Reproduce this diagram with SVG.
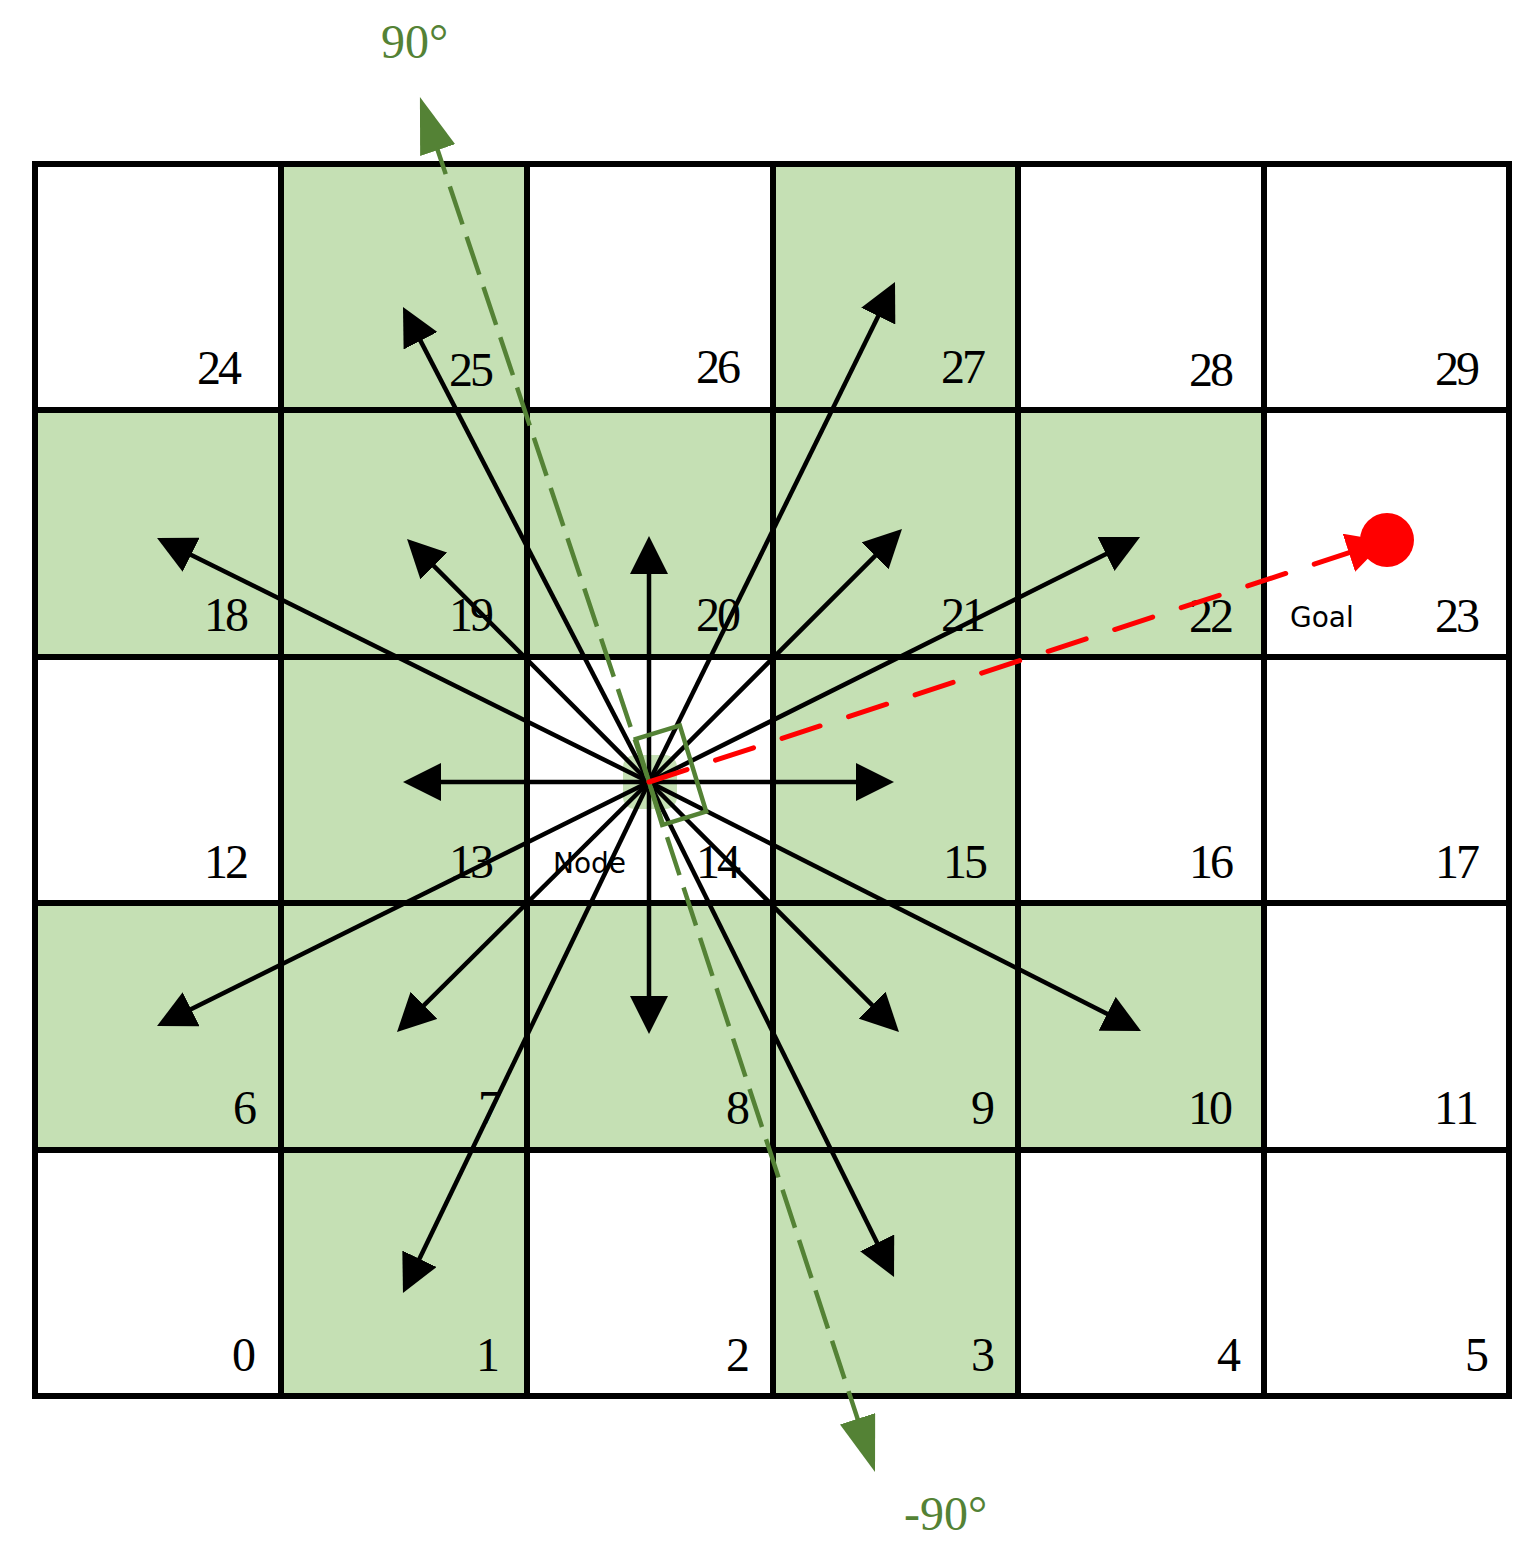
<svg xmlns="http://www.w3.org/2000/svg" width="1533" height="1550" viewBox="0 0 1533 1550">
<style>
.cw{fill:#FFFFFF;stroke:#000;stroke-width:6}
.cg{fill:#C5E0B4;stroke:#000;stroke-width:6}
.num{font-family:"Liberation Serif","Times New Roman",serif;font-size:48px;fill:#000}
.lbl{font-family:"DejaVu Sans","Liberation Sans",sans-serif;font-size:28px;fill:#000}
.ang{font-family:"Liberation Serif","Times New Roman",serif;font-size:48px;fill:#548235}
.arr{stroke:#000;stroke-width:4.5;fill:none;marker-end:url(#ah)}
.gd{stroke:#548235;stroke-width:4.5;fill:none;stroke-dasharray:40 13;stroke-dashoffset:48;marker-end:url(#gh)}
</style>
<defs>
<marker id="ah" markerUnits="userSpaceOnUse" markerWidth="38" markerHeight="38" viewBox="0 0 38 38" refX="28" refY="19" orient="auto"><path d="M0,0 L38,19 L0,38 Z" fill="#000"/></marker>
<marker id="gh" markerUnits="userSpaceOnUse" markerWidth="56" markerHeight="37" viewBox="0 0 56 37" refX="46" refY="18.5" orient="auto"><path d="M0,0 L56,18.5 L0,37 Z" fill="#548235"/></marker>
<marker id="rh" markerUnits="userSpaceOnUse" markerWidth="38" markerHeight="40" viewBox="0 0 38 40" refX="28" refY="20" orient="auto"><path d="M0,0 L38,20 L0,40 Z" fill="#FF0000"/></marker>
</defs>
<rect x="0" y="0" width="1533" height="1550" fill="#FFFFFF"/>
<g id="cells">
<g id="cell-0"><rect class="cw" x="35" y="1150" width="246" height="246"/><text class="num" x="232" y="1371" textLength="23">0</text></g>
<g id="cell-1"><rect class="cg" x="281" y="1150" width="246" height="246"/><text class="num" x="476" y="1371">1</text></g>
<g id="cell-2"><rect class="cw" x="527" y="1150" width="246" height="246"/><text class="num" x="726" y="1371">2</text></g>
<g id="cell-3"><rect class="cg" x="773" y="1150" width="245" height="246"/><text class="num" x="971" y="1371">3</text></g>
<g id="cell-4"><rect class="cw" x="1018" y="1150" width="246" height="246"/><text class="num" x="1217" y="1371">4</text></g>
<g id="cell-5"><rect class="cw" x="1264" y="1150" width="245" height="246"/><text class="num" x="1465" y="1371">5</text></g>
<g id="cell-6"><rect class="cg" x="35" y="903" width="246" height="247"/><text class="num" x="233" y="1124">6</text></g>
<g id="cell-7"><rect class="cg" x="281" y="903" width="246" height="247"/><text class="num" x="478" y="1124">7</text></g>
<g id="cell-8"><rect class="cg" x="527" y="903" width="246" height="247"/><text class="num" x="726" y="1124">8</text></g>
<g id="cell-9"><rect class="cg" x="773" y="903" width="245" height="247"/><text class="num" x="971" y="1124">9</text></g>
<g id="cell-10"><rect class="cg" x="1018" y="903" width="246" height="247"/><text class="num" x="1188" y="1124" textLength="45">10</text></g>
<g id="cell-11"><rect class="cw" x="1264" y="903" width="245" height="247"/><text class="num" x="1434" y="1124" textLength="45">11</text></g>
<g id="cell-12"><rect class="cw" x="35" y="657" width="246" height="246"/><text class="num" x="204" y="878" textLength="45">12</text></g>
<g id="cell-13"><rect class="cg" x="281" y="657" width="246" height="246"/><text class="num" x="449" y="878" textLength="45">13</text></g>
<g id="cell-14"><rect class="cw" x="527" y="657" width="246" height="246"/><text class="num" x="696" y="878" textLength="45">14</text></g>
<g id="cell-15"><rect class="cg" x="773" y="657" width="245" height="246"/><text class="num" x="943" y="878" textLength="45">15</text></g>
<g id="cell-16"><rect class="cw" x="1018" y="657" width="246" height="246"/><text class="num" x="1189" y="878" textLength="45">16</text></g>
<g id="cell-17"><rect class="cw" x="1264" y="657" width="245" height="246"/><text class="num" x="1435" y="878" textLength="45">17</text></g>
<g id="cell-18"><rect class="cg" x="35" y="410" width="246" height="247"/><text class="num" x="204" y="631" textLength="45">18</text></g>
<g id="cell-19"><rect class="cg" x="281" y="410" width="246" height="247"/><text class="num" x="449" y="631" textLength="45">19</text></g>
<g id="cell-20"><rect class="cg" x="527" y="410" width="246" height="247"/><text class="num" x="696" y="631" textLength="45">20</text></g>
<g id="cell-21"><rect class="cg" x="773" y="410" width="245" height="247"/><text class="num" x="941" y="631" textLength="45">21</text></g>
<g id="cell-22"><rect class="cg" x="1018" y="410" width="246" height="247"/><text class="num" x="1189" y="632" textLength="45">22</text></g>
<g id="cell-23"><rect class="cw" x="1264" y="410" width="245" height="247"/><text class="num" x="1435" y="632" textLength="45">23</text><text class="lbl" x="1290" y="627">Goal</text></g>
<g id="cell-24"><rect class="cw" x="35" y="164" width="246" height="246"/><text class="num" x="197" y="384" textLength="45">24</text></g>
<g id="cell-25"><rect class="cg" x="281" y="164" width="246" height="246"/><text class="num" x="449" y="386" textLength="45">25</text></g>
<g id="cell-26"><rect class="cw" x="527" y="164" width="246" height="246"/><text class="num" x="696" y="383" textLength="45">26</text></g>
<g id="cell-27"><rect class="cg" x="773" y="164" width="245" height="246"/><text class="num" x="941" y="383" textLength="45">27</text></g>
<g id="cell-28"><rect class="cw" x="1018" y="164" width="246" height="246"/><text class="num" x="1189" y="386" textLength="45">28</text></g>
<g id="cell-29"><rect class="cw" x="1264" y="164" width="245" height="246"/><text class="num" x="1435" y="385" textLength="45">29</text></g>
</g>
<g id="node">
<rect x="623" y="755" width="54" height="54" rx="12" fill="#C5E0B4"/>
<text class="lbl" x="553" y="873">Node</text>
</g>
<g id="connectors">
<line class="arr" x1="649" y1="782" x2="649" y2="546"/>
<line class="arr" x1="649" y1="782" x2="649" y2="1024"/>
<line class="arr" x1="649" y1="782" x2="413" y2="782"/>
<line class="arr" x1="649" y1="782" x2="884" y2="782"/>
<line class="arr" x1="649" y1="782" x2="414.1" y2="546.1"/>
<line class="arr" x1="649" y1="782" x2="894.9" y2="536.1"/>
<line class="arr" x1="649" y1="782" x2="404.1" y2="1025"/>
<line class="arr" x1="649" y1="782" x2="891.9" y2="1024.9"/>
<line class="arr" x1="649" y1="782" x2="407.6" y2="315.9"/>
<line class="arr" x1="649" y1="782" x2="890.6" y2="291"/>
<line class="arr" x1="649" y1="782" x2="166" y2="542.4"/>
<line class="arr" x1="649" y1="782" x2="1131.1" y2="541.5"/>
<line class="arr" x1="649" y1="782" x2="166" y2="1021.6"/>
<line class="arr" x1="649" y1="782" x2="1132.1" y2="1026.5"/>
<line class="arr" x1="649" y1="782" x2="407.3" y2="1284"/>
<line class="arr" x1="649" y1="782" x2="889.6" y2="1268"/>
<line class="gd" x1="649" y1="782" x2="423.1" y2="106.5"/>
<line class="gd" x1="649" y1="782" x2="871.9" y2="1462.5"/>
<rect x="0" y="-45" width="46" height="90" transform="translate(649,782) rotate(-17)" fill="none" stroke="#548235" stroke-width="4.5"/>
<line x1="649" y1="782" x2="1375.5" y2="544.1" stroke="#FF0000" stroke-width="5" stroke-linecap="round" stroke-dasharray="40 30" fill="none" marker-end="url(#rh)"/>
</g>
<g id="goal-point"><circle cx="1387" cy="540" r="27" fill="#FF0000"/></g>
<g id="angle-labels">
<text class="ang" x="381" y="58">90°</text>
<text class="ang" x="904" y="1530">-90°</text>
</g>
</svg>
